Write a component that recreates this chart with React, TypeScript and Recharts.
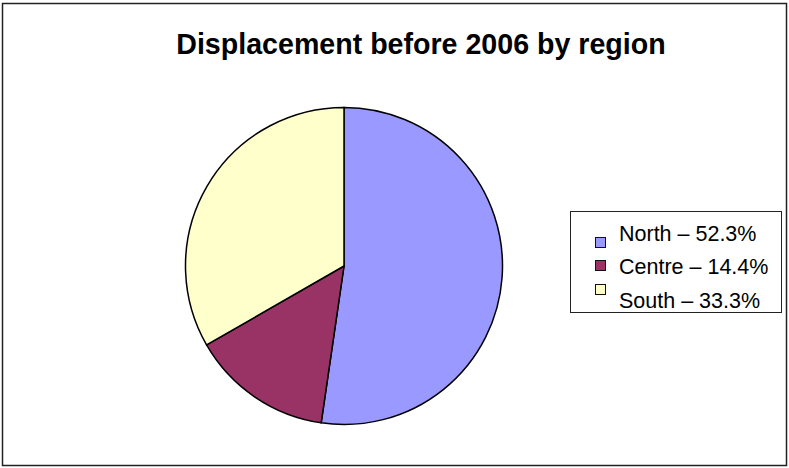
import React from "react";
import { PieChart, Pie, Cell, Legend } from "recharts";

const regions = ["North", "Centre", "South"];
const shares = [52.3, 14.4, 33.3];
const colors = ["#9999FF", "#993366", "#FFFFCC"];
const title = "Displacement before 2006 by region";

const data = regions.map((name, i) => ({ name, value: shares[i] }));

const FONT = "'Liberation Sans', Arial, Helvetica, sans-serif";

const squareTops = [26, 49, 73];
const textBaselines = [30, 63, 97];

const LegendBox = () => (
  <svg width={213} height={103} style={{ display: "block" }}>
    <rect x={0.5} y={0.5} width={211} height={101} fill="#fff" stroke="#222" strokeWidth={1} />
    {data.map((d, i) => (
      <g key={d.name}>
        <rect x={25.5} y={squareTops[i] + 0.5} width={10} height={10} fill={colors[i]} stroke="#111" strokeWidth={1} />
        <text x={49} y={textBaselines[i]} fontFamily={FONT} fontSize={21.5} fill="#000">
          {`${d.name} – ${d.value.toFixed(1)}%`}
        </text>
      </g>
    ))}
  </svg>
);

export default function App() {
  return (
    <div style={{ position: "absolute", left: 0, top: 0, width: 789, height: 468, background: "#fff" }}>
      <PieChart width={789} height={468} margin={{ top: 0, right: 0, bottom: 0, left: 0 }}>
        <rect x={2.5} y={3.5} width={784} height={462} fill="#fff" stroke="#222" strokeWidth={1.5} />
        <text x={421} y={54} textAnchor="middle" fontFamily={FONT} fontWeight="bold" fontSize={28.6} fill="#000">
          {title}
        </text>
        <Pie
          data={data}
          dataKey="value"
          nameKey="name"
          cx={344}
          cy={266}
          outerRadius={158.5}
          startAngle={90}
          endAngle={-270}
          stroke="#000"
          strokeWidth={1.5}
          isAnimationActive={false}
          labelLine={false}
        >
          {data.map((d, i) => (
            <Cell key={d.name} fill={colors[i]} />
          ))}
        </Pie>
        <Legend
          content={() => <LegendBox />}
          wrapperStyle={{ position: "absolute", left: 570, top: 211, width: 213, height: 103 }}
        />
      </PieChart>
    </div>
  );
}
